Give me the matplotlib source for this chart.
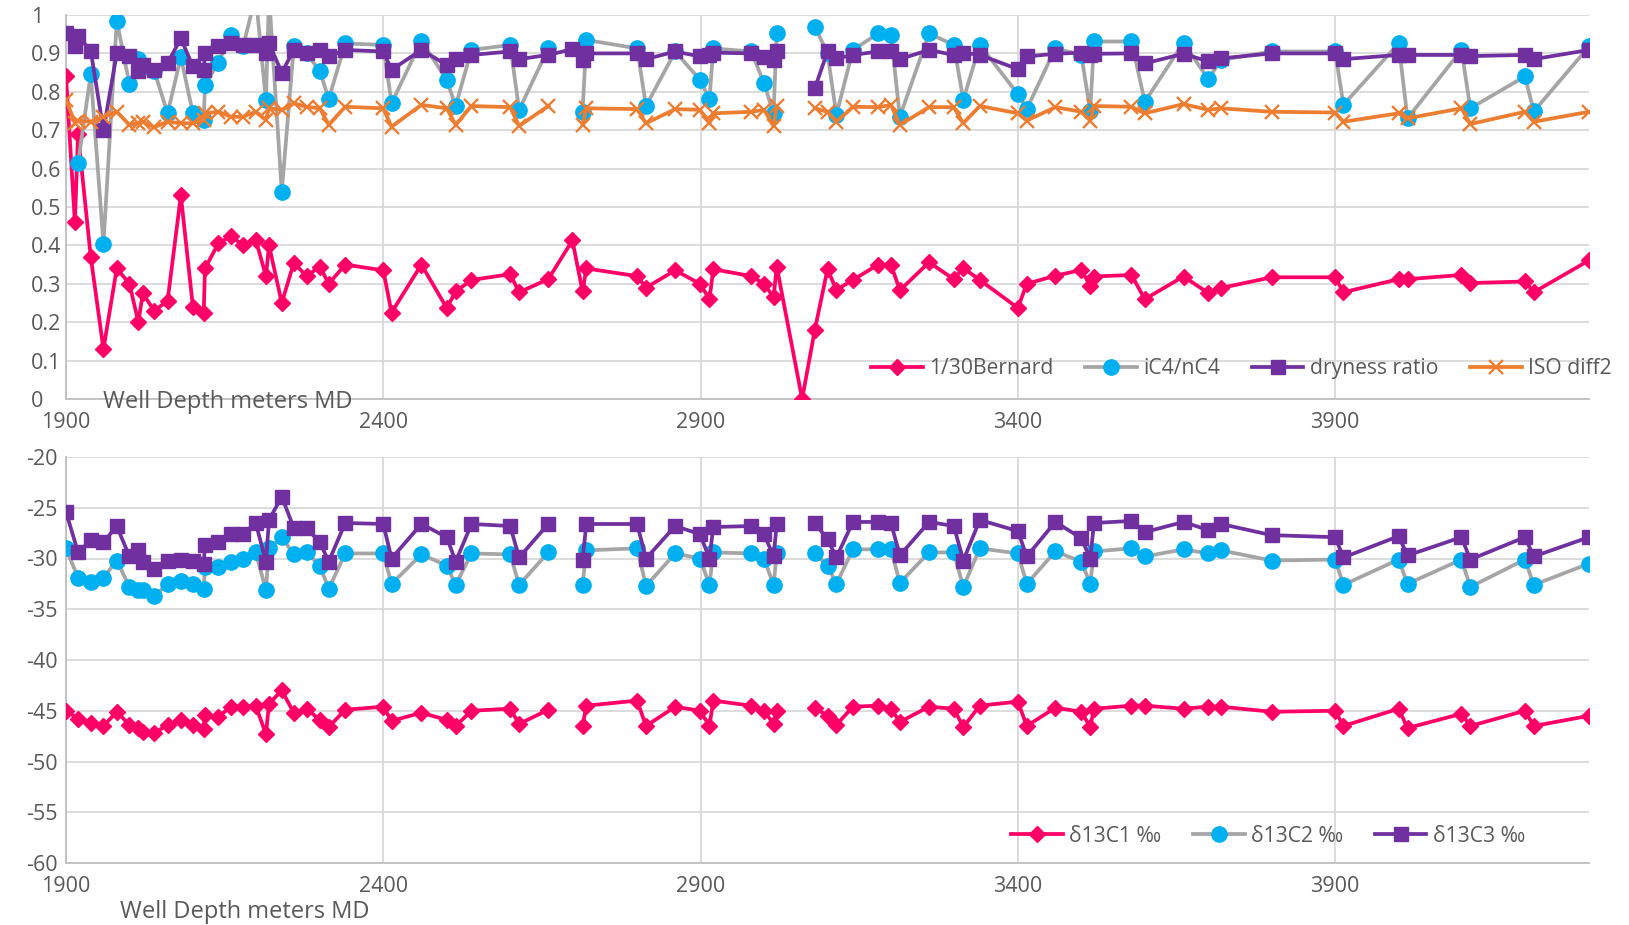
import numpy as np
import matplotlib
matplotlib.use('Agg')
import matplotlib.pyplot as plt

plt.rcParams['font.family'] = ['Open Sans', 'DejaVu Sans']
plt.rcParams['axes.unicode_minus'] = False

nan = np.nan

# top panel: ratios vs depth (nan = gap in the series)
depth_top = [1900, 1914, 1919, 1939, 1959, 1980, 2000, 2014, 2021, 2039,
             2060, 2081, 2100, 2117, 2119, 2140, 2160, 2179, 2199, 2215,
             2220, 2240, 2259, 2279, 2300, 2314, 2340, 2400, 2413, 2460,
             2500, 2514, 2539, 2600, 2614, 2660, 2698, 2714, 2720, 2800,
             2814, 2860, 2899, 2914, 2920, 2980, 3000, 3015, 3020, 3060,
             3080, 3100, 3114, 3140, 3180, 3200, 3214, 3260, 3299, 3314,
             3340, 3400, 3414, 3459, 3500, 3514, 3520, 3579, 3600, 3661,
             3700, 3720, 3800, 3900, 3913, 4000, 4014, 4099, 4113, 4199,
             4213, 4300]

bernard = [0.84, 0.46, 0.69, 0.37, 0.13, 0.34, 0.30, 0.20, 0.275, 0.23,
           0.255, 0.53, 0.24, 0.225, 0.34, 0.405, 0.425, 0.40, 0.415, 0.32,
           0.40, 0.25, 0.355, 0.32, 0.345, 0.30, 0.35, 0.335, 0.225, 0.35,
           0.237, 0.28, 0.31, 0.325, 0.278, 0.312, 0.413, 0.28, 0.34, 0.32,
           0.29, 0.335, 0.30, 0.26, 0.338, 0.32, 0.30, 0.265, 0.345, 0.0,
           0.18, 0.338, 0.284, 0.31, 0.35, 0.35, 0.283, 0.356, 0.312, 0.341,
           0.31, 0.237, 0.30, 0.321, 0.336, 0.295, 0.319, 0.323, 0.26, 0.319,
           0.276, 0.289, 0.317, 0.317, 0.278, 0.312, 0.312, 0.323, 0.302, 0.306,
           0.278, 0.361]

ic4_nc4 = [nan, nan, 0.615, 0.846, 0.404, 0.985, 0.82, 0.885, 0.865, 0.855,
           0.744, 0.89, 0.744, 0.727, 0.818, 0.876, 0.948, 0.918, 1.05, 0.779,
           1.05, 0.54, 0.918, 0.90, 0.854, 0.781, 0.926, 0.922, 0.77, 0.933,
           0.831, 0.763, 0.909, 0.922, 0.753, 0.913, nan, 0.748, 0.935, 0.913,
           0.763, 0.905, 0.831, 0.781, 0.913, 0.905, 0.822, 0.744, 0.952, nan,
           0.97, 0.90, 0.74, 0.909, 0.952, 0.948, 0.735, 0.952, 0.922, 0.779,
           0.922, 0.794, 0.755, 0.913, 0.896, 0.749, 0.931, 0.931, 0.774, 0.928,
           0.833, 0.883, 0.905, 0.905, 0.766, 0.926, 0.731, 0.909, 0.757, 0.84,
           0.749, 0.918]

dryness = [0.952, 0.918, 0.945, 0.907, 0.70, 0.90, 0.892, 0.853, 0.87, 0.857,
           0.874, 0.939, 0.866, 0.857, 0.90, 0.918, 0.926, 0.922, 0.922, 0.90,
           0.926, 0.85, 0.909, 0.90, 0.909, 0.892, 0.909, 0.905, 0.857, 0.909,
           0.87, 0.885, 0.896, 0.905, 0.885, 0.896, 0.911, 0.883, 0.90, 0.90,
           0.885, 0.905, 0.892, 0.896, 0.902, 0.90, 0.89, 0.883, 0.905, nan,
           0.809, 0.905, 0.887, 0.896, 0.905, 0.905, 0.885, 0.909, 0.896, 0.902,
           0.896, 0.859, 0.892, 0.899, 0.902, 0.896, 0.899, 0.90, 0.874, 0.899,
           0.879, 0.887, 0.90, 0.90, 0.885, 0.896, 0.896, 0.896, 0.893, 0.896,
           0.885, 0.909]

iso_diff2 = [0.779, 0.72, 0.725, 0.722, 0.735, 0.748, 0.714, 0.718, 0.722, 0.708,
             0.722, 0.718, 0.718, 0.727, 0.744, 0.748, 0.735, 0.735, 0.748, 0.727,
             0.757, 0.753, 0.77, 0.761, 0.757, 0.714, 0.761, 0.757, 0.709, 0.766,
             0.757, 0.714, 0.763, 0.76, 0.711, 0.763, nan, 0.714, 0.757, 0.755,
             0.718, 0.755, 0.753, 0.718, 0.744, 0.748, 0.753, 0.711, 0.763, nan,
             0.757, 0.748, 0.722, 0.761, 0.76, 0.766, 0.714, 0.76, 0.76, 0.718,
             0.763, 0.744, 0.725, 0.76, 0.748, 0.725, 0.763, 0.761, 0.744, 0.768,
             0.753, 0.757, 0.748, 0.746, 0.722, 0.744, 0.731, 0.757, 0.716, 0.748,
             0.722, 0.748]

# bottom panel: carbon isotopes vs depth
depth_bot = [1900, 1919, 1939, 1959, 1980, 2000, 2014, 2021, 2039, 2060,
             2081, 2100, 2117, 2119, 2140, 2160, 2179, 2199, 2215, 2220,
             2240, 2259, 2279, 2300, 2314, 2340, 2400, 2413, 2460, 2500,
             2514, 2539, 2600, 2614, 2660, 2698, 2714, 2720, 2800, 2814,
             2860, 2899, 2914, 2920, 2980, 3000, 3015, 3020, 3060, 3080,
             3100, 3114, 3140, 3180, 3200, 3214, 3260, 3299, 3314, 3340,
             3400, 3414, 3459, 3500, 3514, 3520, 3579, 3600, 3661, 3700,
             3720, 3800, 3900, 3913, 4000, 4014, 4099, 4113, 4199, 4213,
             4300]

d13c1 = [-45.0, -45.8, -46.2, -46.5, -45.1, -46.4, -46.7, -47.1, -47.2, -46.4,
         -45.9, -46.4, -46.8, -45.4, -45.6, -44.6, -44.6, -44.5, -47.3, -44.3,
         -43.0, -45.2, -44.8, -45.9, -46.6, -44.9, -44.6, -46.0, -45.2, -45.9,
         -46.5, -45.0, -44.8, -46.3, -44.9, nan, -46.5, -44.5, -44.0, -46.5,
         -44.6, -45.0, -46.5, -44.0, -44.5, -45.0, -46.3, -45.0, nan, -44.7,
         -45.5, -46.4, -44.6, -44.5, -44.8, -46.1, -44.6, -44.8, -46.6, -44.5,
         -44.1, -46.5, -44.7, -45.1, -46.6, -44.8, -44.5, -44.5, -44.8, -44.6,
         -44.6, -45.1, -45.0, -46.5, -44.8, -46.7, -45.3, -46.5, -45.0, -46.5,
         -45.5]

d13c2 = [-29.0, -31.9, -32.3, -31.9, -30.2, -32.8, -33.1, -33.1, -33.7, -32.5,
         -32.2, -32.5, -33.0, -30.8, -30.8, -30.3, -30.0, -29.4, -33.1, -29.0,
         -27.9, -29.6, -29.4, -30.7, -33.0, -29.5, -29.5, -32.5, -29.6, -30.7,
         -32.6, -29.5, -29.6, -32.6, -29.4, nan, -32.6, -29.2, -29.0, -32.7,
         -29.5, -30.0, -32.6, -29.4, -29.5, -30.0, -32.6, -29.5, nan, -29.5,
         -30.7, -32.5, -29.1, -29.1, -29.1, -32.4, -29.4, -29.4, -32.8, -29.0,
         -29.5, -32.5, -29.3, -30.3, -32.5, -29.3, -29.0, -29.8, -29.1, -29.5,
         -29.2, -30.2, -30.1, -32.6, -30.1, -32.5, -30.1, -32.8, -30.1, -32.6,
         -30.5]

d13c3 = [-25.4, -29.4, -28.2, -28.4, -26.8, -29.8, -29.2, -30.3, -31.0, -30.2,
         -30.1, -30.2, -30.5, -28.7, -28.4, -27.6, -27.6, -26.5, -30.3, -26.2,
         -23.9, -27.0, -27.0, -28.4, -30.3, -26.5, -26.6, -30.0, -26.6, -27.9,
         -30.3, -26.6, -26.8, -29.9, -26.6, nan, -30.1, -26.6, -26.6, -30.0,
         -26.8, -27.6, -30.0, -26.9, -26.8, -27.6, -29.8, -26.6, nan, -26.5,
         -28.1, -29.9, -26.4, -26.4, -26.5, -29.7, -26.4, -26.8, -30.2, -26.2,
         -27.3, -29.8, -26.4, -28.0, -30.0, -26.5, -26.3, -27.4, -26.4, -27.2,
         -26.6, -27.7, -27.9, -29.9, -27.8, -29.7, -27.9, -30.1, -27.9, -29.8,
         -27.9]

PINK = '#FF0066'
CYAN = '#00B0F0'
GREY = '#A5A5A5'
PURPLE = '#7030A0'
ORANGE = '#ED7D31'
TXT = '#595959'
GRID = '#D9D9D9'

W, H = 1629, 925
fig = plt.figure(figsize=(W / 100, H / 100), dpi=100)
ax1 = fig.add_axes([66 / W, 1 - 399 / H, 1523 / W, 384 / H])
ax2 = fig.add_axes([66 / W, 1 - 863 / H, 1523 / W, 406 / H])


def style(ax, ymin, ymax, ystep, ypad):
    ax.set_xlim(1900, 4300)
    ax.set_ylim(ymin, ymax)
    ax.set_xticks(np.arange(1900, 4300, 500))
    yt = np.arange(ymin, ymax + ystep / 2, ystep)
    ax.set_yticks(yt)
    ax.set_yticklabels([f'{round(v, 1):g}' for v in yt])
    ax.grid(True, color=GRID, lw=1.3)
    ax.set_axisbelow(True)
    ax.spines['top'].set_visible(False)
    ax.spines['right'].set_visible(False)
    ax.spines['left'].set_color('#BFBFBF')
    ax.spines['bottom'].set_color('#BFBFBF')
    ax.spines['left'].set_linewidth(1.3)
    ax.spines['bottom'].set_linewidth(1.3)
    ax.tick_params(length=0, labelsize=15.5, labelcolor=TXT)
    ax.tick_params(axis='x', pad=9)
    ax.tick_params(axis='y', pad=ypad)
    for lab in ax.get_yticklabels():
        lab.set_horizontalalignment('left')


style(ax1, 0, 1, 0.1, 25)
style(ax2, -60, -20, 5, 29)

lw = 2.7
ax1.plot(depth_top, bernard, color=PINK, lw=lw, marker='D', ms=8.5,
         mfc=PINK, mec=PINK, label='1/30Bernard', zorder=3)
ax1.plot(depth_top, ic4_nc4, color=GREY, lw=lw, marker='o', ms=11,
         mfc=CYAN, mec=CYAN, label='iC4/nC4', zorder=4)
ax1.plot(depth_top, dryness, color=PURPLE, lw=lw, marker='s', ms=10.5,
         mfc=PURPLE, mec=PURPLE, label='dryness ratio', zorder=5)
ax1.plot(depth_top, iso_diff2, color=ORANGE, lw=lw, marker='x', ms=10.5,
         mew=1.7, label='ISO diff2', zorder=6)

ax2.plot(depth_bot, d13c1, color=PINK, lw=lw, marker='D', ms=8.5,
         mfc=PINK, mec=PINK, label='δ13C1 ‰', zorder=3)
ax2.plot(depth_bot, d13c2, color=GREY, lw=lw, marker='o', ms=11,
         mfc=CYAN, mec=CYAN, label='δ13C2 ‰', zorder=4)
ax2.plot(depth_bot, d13c3, color=PURPLE, lw=lw, marker='s', ms=10.5,
         mfc=PURPLE, mec=PURPLE, label='δ13C3 ‰', zorder=5)

leg_kw = dict(frameon=False, fontsize=15.2, labelcolor=TXT, handlelength=2.45,
              handletextpad=0.3, columnspacing=1.5, borderpad=0,
              borderaxespad=0, numpoints=1, loc='center left')
h, l = ax1.get_legend_handles_labels()
fig.legend(h, l, ncol=4, bbox_to_anchor=(871 / W, 1 - 369 / H), **leg_kw)
h, l = ax2.get_legend_handles_labels()
fig.legend(h, l, ncol=3, bbox_to_anchor=(1011 / W, 1 - 836 / H), **leg_kw)

fig.text(103 / W, 1 - 402 / H, 'Well Depth meters MD', fontsize=17,
         color=TXT, ha='left', va='center')
fig.text(120 / W, 1 - 912 / H, 'Well Depth meters MD', fontsize=17,
         color=TXT, ha='left', va='center')

fig.savefig('out.png', dpi=100, facecolor='white')
